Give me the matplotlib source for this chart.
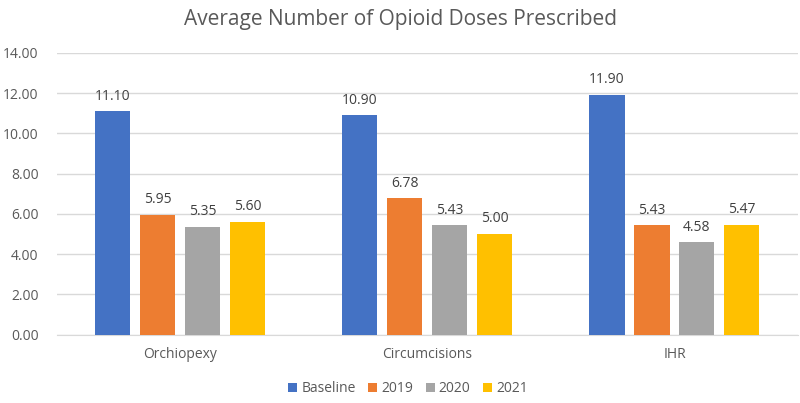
import matplotlib
matplotlib.use("Agg")
import matplotlib.pyplot as plt
import numpy as np

categories = ["Orchiopexy", "Circumcisions", "IHR"]
series_names = ["Baseline", "2019", "2020", "2021"]
baseline = [11.10, 10.90, 11.90]
y2019 = [5.95, 6.78, 5.43]
y2020 = [5.35, 5.43, 4.58]
y2021 = [5.60, 5.00, 5.47]
yticks = [0, 2, 4, 6, 8, 10, 12, 14]

colors = ["#4472C4", "#ED7D31", "#A5A5A5", "#FFC000"]
plt.rcParams['font.family'] = ['Open Sans', 'DejaVu Sans']

fig = plt.figure(figsize=(8, 4.03), dpi=100)
ax = fig.add_axes([0.071, 0.1695, 0.9265, 0.6995])

x = np.arange(len(categories))
step = 0.182
width = 0.142
all_series = [baseline, y2019, y2020, y2021]
for i, (name, vals, c) in enumerate(zip(series_names, all_series, colors)):
    pos = x + (i - 1.5) * step
    bars = ax.bar(pos, vals, width, color=c, label=name, zorder=3)
    for b, v in zip(bars, vals):
        ax.text(b.get_x() + b.get_width() / 2, v + 0.38, f"{v:.2f}",
                ha="center", va="bottom", fontsize=10, color="#404040")

ax.set_xlim(-0.5, len(categories) - 0.5)
ax.set_ylim(0, 14)
ax.set_yticks(yticks)
ax.set_yticklabels([f"{t:.2f}" for t in yticks])
ax.set_xticks(x)
ax.set_xticklabels(categories)
ax.tick_params(axis="both", length=0, labelsize=10, colors="#595959")
ax.tick_params(axis="x", pad=9)
ax.tick_params(axis="y", pad=13)
ax.grid(axis="y", color="#D9D9D9", linewidth=1, zorder=0)
for s in ["top", "right", "left"]:
    ax.spines[s].set_visible(False)
ax.spines["bottom"].set_color("#D9D9D9")

fig.text(0.5, 0.952, "Average Number of Opioid Doses Prescribed", ha="center",
         va="center", fontsize=15, color="#595959")

fig.legend(loc="center", bbox_to_anchor=(0.51, 0.035), ncol=4, frameon=False,
           fontsize=10, handlelength=0.65, handleheight=0.65, handletextpad=0.3,
           columnspacing=0.9, labelcolor="#595959")

fig.savefig("out.png", dpi=100)
